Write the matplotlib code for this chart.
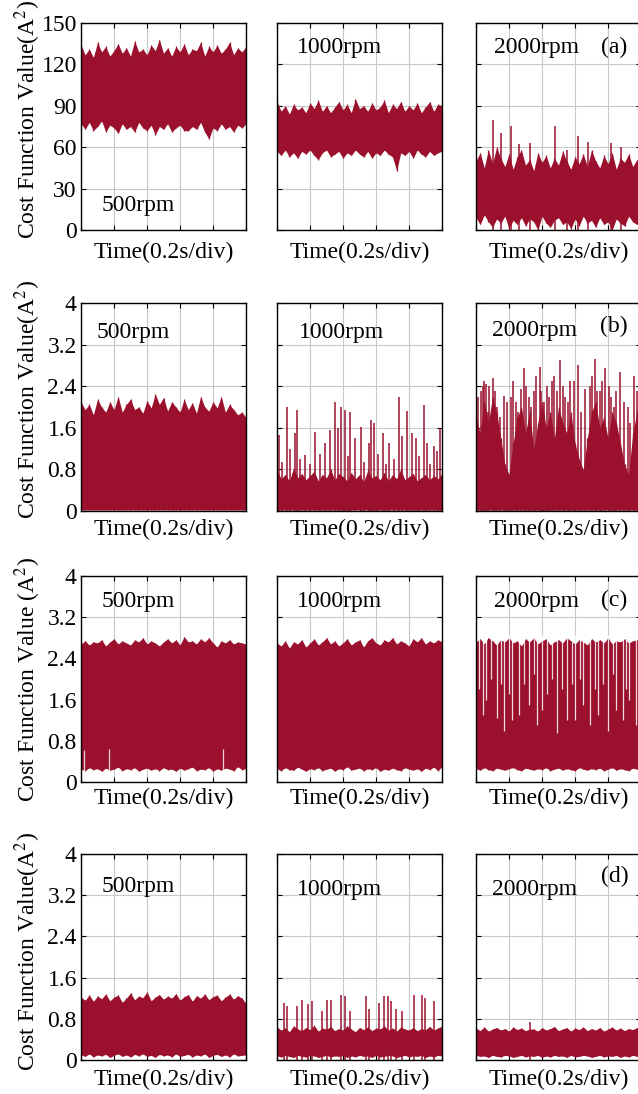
import numpy as np
import matplotlib.pyplot as plt

plt.rcParams['font.family'] = ['Liberation Serif', 'DejaVu Serif']
plt.rcParams['mathtext.fontset'] = 'stix'

RED = '#9b112d'
FS = 17

# ---- row (a): cost function value, A^2, envelope sampled over 1 s ----
a500_hi = [134, 127, 131, 125, 136, 129, 133, 126, 130, 135, 128, 132, 126, 137, 129, 131, 127, 134, 130, 138,
           128, 132, 126, 133, 129, 135, 127, 131, 130, 136, 126, 133, 129, 134, 128, 131, 136, 127, 132, 129, 133]
a500_lo = [77, 73, 78, 72, 75, 79, 71, 76, 74, 70, 77, 73, 75, 71, 78, 74, 72, 76, 69, 75,
           73, 77, 71, 74, 76, 72, 72, 75, 73, 78, 71, 66, 74, 72, 77, 73, 75, 71, 76, 74, 77]
a1000_hi = [93, 86, 90, 84, 91, 87, 89, 85, 92, 88, 94, 86, 90, 85, 89, 93, 87, 91, 85, 95,
            88, 90, 86, 92, 87, 89, 94, 85, 91, 88, 93, 86, 90, 87, 92, 85, 89, 93, 86, 91, 90]
a1000_lo = [57, 54, 58, 53, 56, 52, 57, 55, 58, 54, 51, 56, 58, 53, 55, 57, 52, 56, 54, 58,
            55, 53, 57, 52, 56, 54, 58, 55, 53, 43, 56, 54, 57, 52, 58, 55, 53, 57, 54, 56, 57]
a2000_hi = [50, 56, 45, 58, 48, 60, 52, 46, 55, 44, 53, 58, 47, 51, 43, 56, 49, 54, 45, 52,
            47, 57, 50, 44, 53, 48, 55, 46, 58, 50, 45, 54, 48, 56, 44, 52, 49, 55, 46, 51, 48]
a2000_lo = [9, 4, 11, 6, 2, 8, 5, 10, 1, 7, 4, 9, 3, 8, 6, 0, 10, 5, 2, 7,
            9, 4, 6, 1, 8, 3, 10, 5, 7, 2, 9, 4, 6, 0, 8, 5, 3, 10, 6, 4, 7]
a2000_spk_t = [0.10, 0.15, 0.21, 0.26, 0.33, 0.48, 0.55, 0.62, 0.68, 0.82, 0.88]
a2000_spk_v = [80, 70, 75, 62, 63, 75, 58, 68, 64, 63, 60]

# ---- row (b) ----
b500_hi = [2.1, 1.95, 2.05, 1.85, 2.15, 2.0, 1.9, 2.1, 1.95, 2.2, 1.9, 2.05, 2.15, 1.95, 2.0, 1.88, 2.12,
           1.98, 2.25, 2.05, 2.18, 1.92, 2.1, 2.0, 1.9, 2.15, 1.95, 2.08, 1.88, 2.2, 2.0, 1.92, 2.1,
           1.98, 2.2, 1.9, 2.05, 1.95, 1.85, 1.9, 1.8]
b1000_hi = [0.78, 0.62, 0.7, 0.58, 0.82, 0.64, 0.72, 0.6, 0.68, 0.76, 0.58, 0.7, 0.64, 0.8, 0.6, 0.72,
            0.66, 0.58, 0.74, 0.62, 0.7, 0.56, 0.78, 0.64, 0.68, 0.6, 0.74, 0.58, 0.7, 0.62, 0.8, 0.6,
            0.66, 0.72, 0.58, 0.64, 0.7, 0.6, 0.68, 0.62, 0.72]
b1000_spk_t = [0.01, 0.06, 0.08, 0.11, 0.12, 0.17, 0.23, 0.29, 0.32, 0.35, 0.37, 0.39, 0.41, 0.44, 0.47,
               0.51, 0.56, 0.57, 0.59, 0.64, 0.68, 0.74, 0.76, 0.79, 0.82, 0.84, 0.89, 0.91, 0.95, 0.99,
               0.03, 0.14, 0.20, 0.26, 0.43, 0.53, 0.61, 0.66, 0.71, 0.86, 0.93, 0.97]
b1000_spk_v = [1.46, 2.0, 1.2, 1.5, 1.94, 1.07, 1.52, 1.3, 1.55, 2.1, 1.6, 2.0, 1.94, 1.9, 1.4,
               1.62, 1.3, 1.75, 1.7, 1.5, 1.3, 2.2, 1.45, 1.92, 1.5, 1.4, 2.04, 1.3, 1.25, 1.6,
               0.95, 1.0, 0.9, 1.1, 1.05, 0.95, 1.1, 0.9, 1.0, 1.05, 0.9, 1.15]
b2000_hi = [1.8, 1.5, 2.1, 1.7, 2.2, 1.9, 1.4, 0.9, 0.7, 1.3, 1.8, 2.0, 1.5, 1.9, 1.2, 1.7, 2.1, 1.6,
            1.9, 1.4, 2.0, 1.7, 1.5, 1.9, 1.3, 1.0, 0.8, 1.4, 1.9, 2.1, 1.6, 1.8, 1.4, 1.9, 1.7, 1.3,
            0.9, 0.7, 1.5, 1.9, 1.7]
b2000_spk_t = [0.0, 0.05, 0.06, 0.10, 0.17, 0.21, 0.29, 0.32, 0.39, 0.43, 0.49, 0.51, 0.57, 0.62,
               0.66, 0.72, 0.75, 0.78, 0.82, 0.87, 0.96,
               0.03, 0.08, 0.13, 0.24, 0.27, 0.35, 0.41, 0.46, 0.54, 0.69, 0.85, 0.92, 0.99,
               0.015, 0.045, 0.075, 0.115, 0.145, 0.185, 0.225, 0.255, 0.305, 0.335, 0.365, 0.395, 0.445,
               0.475, 0.525, 0.555, 0.595, 0.635, 0.705, 0.735, 0.765, 0.805, 0.835, 0.895, 0.935, 0.975]
b2000_spk_v = [1.8, 2.5, 2.45, 2.55, 2.22, 2.2, 2.75, 2.2, 2.77, 2.4, 2.3, 2.9, 2.5, 2.8,
               2.35, 2.92, 2.3, 2.75, 2.2, 2.68, 2.6,
               2.3, 2.4, 2.0, 2.1, 2.35, 2.3, 2.1, 2.5, 2.2, 2.4, 2.3, 2.0, 2.85,
               2.2, 2.4, 1.9, 2.3, 1.8, 2.1, 2.5, 1.9, 2.4, 2.0, 2.6, 2.3, 2.2,
               2.6, 2.4, 2.1, 2.5, 1.9, 2.6, 2.3, 2.5, 2.4, 2.0, 2.1, 1.7, 2.3]

# ---- row (c) ----
c500_hi = [2.68, 2.74, 2.66, 2.72, 2.7, 2.76, 2.64, 2.72, 2.78, 2.68, 2.74, 2.7, 2.66, 2.76, 2.72, 2.8,
           2.68, 2.74, 2.7, 2.64, 2.72, 2.78, 2.7, 2.76, 2.66, 2.82, 2.72, 2.74, 2.68, 2.78, 2.72, 2.8,
           2.7, 2.62, 2.74, 2.7, 2.76, 2.68, 2.72, 2.7, 2.68]
c500_lo = [0.25, 0.22, 0.28, 0.24, 0.26, 0.21, 0.27, 0.23, 0.25, 0.29, 0.22, 0.26, 0.24, 0.28, 0.21, 0.25,
           0.27, 0.23, 0.26, 0.22, 0.28, 0.24, 0.25, 0.21, 0.27, 0.23, 0.26, 0.29, 0.22, 0.25, 0.24, 0.28,
           0.21, 0.26, 0.23, 0.27, 0.25, 0.22, 0.3, 0.24, 0.26]
c500_gap_t = [0.02, 0.17, 0.86]
c500_gap_v = [0.62, 0.65, 0.65]
c1000_hi = [2.7, 2.64, 2.74, 2.6, 2.72, 2.68, 2.76, 2.62, 2.7, 2.78, 2.66, 2.72, 2.8, 2.68, 2.74, 2.64,
            2.7, 2.78, 2.66, 2.72, 2.76, 2.62, 2.74, 2.8, 2.7, 2.66, 2.76, 2.72, 2.8, 2.68, 2.74, 2.7,
            2.64, 2.78, 2.72, 2.8, 2.68, 2.74, 2.7, 2.76, 2.72]
c1000_lo = [0.26, 0.22, 0.28, 0.24, 0.23, 0.29, 0.25, 0.21, 0.26, 0.24, 0.28, 0.22, 0.25, 0.27, 0.21, 0.26,
            0.24, 0.3, 0.23, 0.25, 0.27, 0.22, 0.26, 0.24, 0.28, 0.21, 0.25, 0.23, 0.27, 0.24, 0.22, 0.28,
            0.25, 0.23, 0.26, 0.21, 0.27, 0.24, 0.29, 0.22, 0.3]
c2000_hi = [2.72, 2.78, 2.68, 2.8, 2.74, 2.66, 2.76, 2.72, 2.8, 2.7, 2.74, 2.64, 2.78, 2.72, 2.8, 2.68,
            2.74, 2.78, 2.66, 2.72, 2.76, 2.7, 2.8, 2.74, 2.68, 2.76, 2.72, 2.66, 2.78, 2.72, 2.76, 2.7,
            2.8, 2.68, 2.74, 2.72, 2.78, 2.7, 2.74, 2.76, 2.72]
c2000_lo = [0.26, 0.23, 0.28, 0.24, 0.22, 0.27, 0.25, 0.23, 0.26, 0.28, 0.24, 0.22, 0.27, 0.25, 0.23, 0.26,
            0.24, 0.28, 0.22, 0.25, 0.27, 0.23, 0.26, 0.24, 0.22, 0.28, 0.25, 0.23, 0.26, 0.24, 0.27, 0.22,
            0.25, 0.28, 0.23, 0.26, 0.24, 0.22, 0.27, 0.25, 0.26]
c2000_dip_t = [0.02, 0.04, 0.06, 0.09, 0.13, 0.15, 0.17, 0.20, 0.22, 0.26, 0.29, 0.32, 0.35, 0.37, 0.40,
               0.43, 0.46, 0.49, 0.52, 0.55, 0.58, 0.60, 0.63, 0.65, 0.69, 0.72, 0.74, 0.77, 0.80, 0.83,
               0.85, 0.89, 0.91, 0.93, 0.97]
c2000_dip_v = [1.8, 1.3, 1.6, 2.0, 1.25, 1.9, 1.0, 1.7, 1.2, 1.3, 1.9, 1.5, 2.1, 1.1, 1.4,
               1.7, 2.0, 0.95, 1.8, 1.2, 1.9, 1.2, 2.0, 1.5, 1.1, 1.8, 1.3, 1.9, 1.0, 2.1,
               1.4, 1.2, 1.8, 1.6, 1.1]

# ---- row (d) ----
d500_hi = [1.22, 1.16, 1.26, 1.14, 1.24, 1.19, 1.28, 1.15, 1.22, 1.26, 1.12, 1.2, 1.3, 1.17, 1.24, 1.21,
           1.32, 1.15, 1.22, 1.27, 1.18, 1.24, 1.2, 1.29, 1.16, 1.23, 1.27, 1.14, 1.25, 1.2, 1.28, 1.17,
           1.23, 1.26, 1.15, 1.22, 1.28, 1.18, 1.25, 1.2, 1.1]
d500_lo = [0.1, 0.07, 0.12, 0.06, 0.1, 0.08, 0.11, 0.05, 0.09, 0.12, 0.07, 0.1, 0.06, 0.11, 0.08, 0.12,
           0.07, 0.09, 0.05, 0.11, 0.08, 0.1, 0.06, 0.12, 0.07, 0.09, 0.11, 0.06, 0.1, 0.08, 0.12, 0.05,
           0.09, 0.11, 0.07, 0.1, 0.06, 0.12, 0.08, 0.09, 0.1]
d1000_hi = [0.64, 0.58, 0.62, 0.55, 0.66, 0.6, 0.57, 0.63, 0.59, 0.67, 0.56, 0.62, 0.6, 0.65, 0.57, 0.61,
            0.58, 0.66, 0.6, 0.55, 0.63, 0.59, 0.64, 0.57, 0.62, 0.6, 0.66, 0.58, 0.62, 0.56, 0.64, 0.6,
            0.58, 0.63, 0.57, 0.61, 0.59, 0.65, 0.58, 0.62, 0.66]
d1000_lo = [0.08, 0.06, 0.09, 0.07, 0.05, 0.09, 0.07, 0.06, 0.09, 0.08, 0.05, 0.07, 0.09, 0.06, 0.08, 0.07,
            0.09, 0.05, 0.08, 0.06, 0.09, 0.07, 0.08, 0.05, 0.09, 0.06, 0.07, 0.09, 0.08, 0.05, 0.07, 0.09,
            0.06, 0.08, 0.07, 0.09, 0.05, 0.08, 0.06, 0.09, 0.08]
d1000_spk_t = [0.04, 0.06, 0.12, 0.15, 0.19, 0.21, 0.27, 0.30, 0.33, 0.39, 0.41, 0.44,
               0.54, 0.56, 0.62, 0.65, 0.67, 0.69, 0.72, 0.76, 0.83, 0.88, 0.90, 0.95]
d1000_spk_v = [1.1, 1.05, 1.05, 1.16, 1.08, 1.15, 0.95, 1.16, 1.16, 1.26, 1.24, 0.95,
               1.25, 1.0, 1.1, 1.25, 1.24, 1.15, 1.0, 0.95, 1.26, 1.26, 1.2, 1.15]
d2000_hi = [0.62, 0.57, 0.64, 0.56, 0.6, 0.63, 0.58, 0.61, 0.56, 0.64, 0.59, 0.62, 0.57, 0.6, 0.6, 0.56,
            0.63, 0.58, 0.61, 0.65, 0.57, 0.6, 0.63, 0.56, 0.62, 0.59, 0.64, 0.57, 0.61, 0.58, 0.63, 0.56,
            0.6, 0.64, 0.58, 0.62, 0.57, 0.61, 0.59, 0.63, 0.6]
d2000_lo = [0.09, 0.07, 0.08, 0.05, 0.09, 0.07, 0.06, 0.09, 0.08, 0.05, 0.07, 0.09, 0.06, 0.08, 0.07, 0.09,
            0.05, 0.08, 0.06, 0.09, 0.07, 0.08, 0.05, 0.09, 0.06, 0.07, 0.09, 0.08, 0.05, 0.07, 0.09, 0.06,
            0.08, 0.07, 0.09, 0.05, 0.08, 0.06, 0.09, 0.07, 0.08]
d2000_spk_t = [0.33]
d2000_spk_v = [0.74]

speeds = ['500rpm', '1000rpm', '2000rpm']
row_tags = ['(a)', '(b)', '(c)', '(d)']

panels = [
    [dict(hi=a500_hi, lo=a500_lo), dict(hi=a1000_hi, lo=a1000_lo),
     dict(hi=a2000_hi, lo=a2000_lo, spk=(a2000_spk_t, a2000_spk_v))],
    [dict(hi=b500_hi, lo=0.02), dict(hi=b1000_hi, lo=0.02, spk=(b1000_spk_t, b1000_spk_v)),
     dict(hi=b2000_hi, lo=0.02, spk=(b2000_spk_t, b2000_spk_v))],
    [dict(hi=c500_hi, lo=c500_lo, gap=(c500_gap_t, c500_gap_v)), dict(hi=c1000_hi, lo=c1000_lo),
     dict(hi=c2000_hi, lo=c2000_lo, dip=(c2000_dip_t, c2000_dip_v))],
    [dict(hi=d500_hi, lo=d500_lo), dict(hi=d1000_hi, lo=d1000_lo, spk=(d1000_spk_t, d1000_spk_v)),
     dict(hi=d2000_hi, lo=d2000_lo, spk=(d2000_spk_t, d2000_spk_v))],
]

# pixel layout of the original figure
W, H = 638, 1094
rows_px = [(23, 230), (303, 511), (576, 782), (854, 1060)]
cols_px = [81, 277, 476]
ax_w = 165
ylab_y = [119, 399, 679, 951]
xlab_dy = [22, 18, 16, 19]
ylabels = ['Cost Function Value(A$^2$)', 'Cost Function Value(A$^2$)',
           'Cost Function Value (A$^2$)', 'Cost Function Value(A$^2$)']
speed_pos = [
    [(0.127, 0.12), (0.12, 0.88), (0.11, 0.88)],
    [(0.097, 0.86), (0.133, 0.86), (0.097, 0.87)],
    [(0.127, 0.874), (0.12, 0.874), (0.11, 0.874)],
    [(0.127, 0.84), (0.12, 0.83), (0.097, 0.83)],
]
tag_pos = [(0.76, 0.88), (0.75, 0.885), (0.76, 0.88), (0.758, 0.89)]

fig = plt.figure(figsize=(W / 100, H / 100), dpi=100)

for r in range(4):
    top, bot = rows_px[r]
    h = bot - top
    for c in range(3):
        ax = fig.add_axes([cols_px[c] / W, 1 - bot / H, ax_w / W, h / H])
        p = panels[r][c]
        t = np.linspace(0, 1, len(p['hi']))
        # dense trace drawn as its envelope, each sample also as a thin stroke
        ax.fill_between(t, p['lo'], p['hi'], color=RED, lw=0, zorder=2)
        ax.vlines(t, p['lo'], p['hi'], color=RED, lw=0.9, zorder=2)
        if 'spk' in p:
            ax.vlines(p['spk'][0], 0, p['spk'][1], color=RED, lw=1.1, zorder=2)
        if 'gap' in p:
            ax.vlines(p['gap'][0], 0, p['gap'][1], color='white', lw=0.9, alpha=0.8, zorder=2.1)
        if 'dip' in p:
            ax.vlines(p['dip'][0], p['dip'][1], 2.86, color='white', lw=0.9, alpha=0.85, zorder=2.1)

        ax.set_xlim(0, 1)
        ax.set_xticks(np.arange(0, 1.01, 0.2))
        if r == 0:
            ax.set_ylim(0, 150)
            ax.set_yticks([0, 30, 60, 90, 120, 150])
        else:
            ax.set_ylim(0, 4)
            ax.set_yticks([0, 0.8, 1.6, 2.4, 3.2, 4])
            ax.set_yticklabels(['0', '0.8', '1.6', '2.4', '3.2', '4'])
        ax.grid(True, color='#c8c8c8', lw=0.8)
        ax.set_axisbelow(True)
        ax.tick_params(direction='in', length=3.5, width=0.8, top=True, right=True,
                       labelbottom=False, labelleft=(c == 0), labelsize=FS, pad=3)
        for s in ax.spines.values():
            s.set_linewidth(1.0)

        sx, sy = speed_pos[r][c]
        ax.text(sx, sy, speeds[c], transform=ax.transAxes, fontsize=FS, ha='left', va='center')
        if c == 2:
            tx, ty = tag_pos[r]
            ax.text(tx, ty, row_tags[r], transform=ax.transAxes, fontsize=FS, ha='left', va='center')
        ax.text(0.5, -xlab_dy[r] / h, 'Time(0.2s/div)', transform=ax.transAxes,
                fontsize=FS, ha='center', va='center')

    fig.text(28 / W, 1 - ylab_y[r] / H, ylabels[r], rotation=90, ha='center', va='center', fontsize=FS)

fig.savefig('out.png', dpi=100)
